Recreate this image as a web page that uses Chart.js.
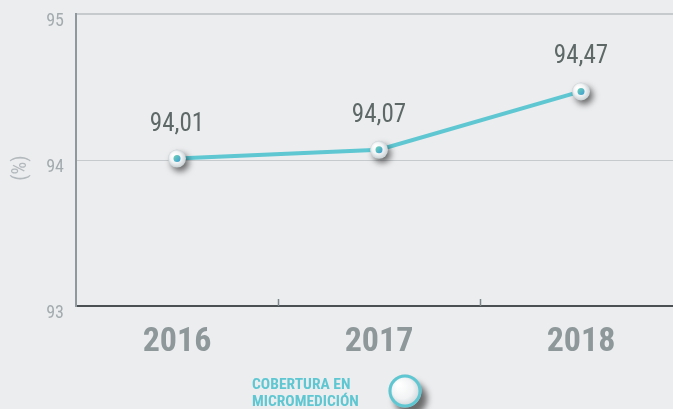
<!DOCTYPE html>
<html>
<head>
<meta charset="utf-8">
<script src="https://cdn.jsdelivr.net/npm/chart.js@4.4.1/dist/chart.umd.min.js"></script>
<style>
html, body { margin: 0; padding: 0; background: #ecedef; overflow: hidden; }
#wrap { position: relative; width: 690px; height: 409px; }
</style>
</head>
<body>
<div id="wrap"><canvas id="chart" width="690" height="409"></canvas></div>
<script>
const years = ['2016', '2017', '2018'];
const coverage = [94.01, 94.07, 94.47];
const valueLabels = ['94,01', '94,07', '94,47'];
const yTicks = [93, 94, 95];
const seriesName = ['COBERTURA EN', 'MICROMEDICIÓN'];

const narrow = '"Liberation Sans Narrow", "Roboto Condensed", Roboto, sans-serif';
const teal = '#5ec7d2';

// marcador blanco con sombra y punto interior
function drawMarker(ctx, x, y, r, ring) {
    ctx.save();
    ctx.shadowColor = 'rgba(0,0,0,0.55)';
    ctx.shadowBlur = 6;
    ctx.shadowOffsetX = r * 0.35;
    ctx.shadowOffsetY = r * 0.45;
    const g = ctx.createRadialGradient(x - r * 0.4, y - r * 0.4, r * 0.1, x, y, r);
    g.addColorStop(0, '#ffffff');
    g.addColorStop(0.6, '#f1f3f4');
    g.addColorStop(1, '#c9d1d4');
    ctx.beginPath();
    ctx.arc(x, y, r, 0, Math.PI * 2);
    ctx.fillStyle = g;
    ctx.fill();
    ctx.restore();
    if (ring) {
        ctx.beginPath();
        ctx.arc(x, y, r - 1.5, 0, Math.PI * 2);
        ctx.lineWidth = 3;
        ctx.strokeStyle = teal;
        ctx.stroke();
    } else {
        const d = ctx.createLinearGradient(x - 3, y - 3, x + 3, y + 3);
        d.addColorStop(0, '#6fd0b8');
        d.addColorStop(1, '#3f9fd0');
        ctx.beginPath();
        ctx.arc(x, y, 3.5, 0, Math.PI * 2);
        ctx.fillStyle = d;
        ctx.fill();
    }
}

const decorPlugin = {
    id: 'decor',
    afterDatasetsDraw(chart) {
        const ctx = chart.ctx;
        const meta = chart.getDatasetMeta(0);
        const area = chart.chartArea;
        const xs = chart.scales.x;

        // marcas pequeñas entre categorías
        ctx.save();
        ctx.strokeStyle = '#7d8689';
        ctx.lineWidth = 1.5;
        for (let i = 1; i < years.length; i++) {
            const px = Math.round((xs.getPixelForValue(i - 1) + xs.getPixelForValue(i)) / 2) + 0.5;
            ctx.beginPath();
            ctx.moveTo(px, area.bottom);
            ctx.lineTo(px, area.bottom - 7);
            ctx.stroke();
        }
        ctx.restore();

        meta.data.forEach((pt, i) => {
            drawMarker(ctx, pt.x, pt.y, 9, false);
            ctx.save();
            ctx.font = '25px ' + narrow;
            ctx.fillStyle = '#5d6867';
            ctx.textAlign = 'center';
            ctx.textBaseline = 'alphabetic';
            ctx.fillText(valueLabels[i], pt.x, pt.y - 28);
            ctx.restore();
        });

        // título del eje
        ctx.save();
        ctx.translate(21, 168);
        ctx.rotate(-Math.PI / 2);
        ctx.font = '20px ' + narrow;
        ctx.fillStyle = '#b3b9bc';
        ctx.textAlign = 'center';
        ctx.textBaseline = 'middle';
        ctx.fillText('(%)', 0, 0);
        ctx.restore();

        // leyenda
        ctx.save();
        ctx.font = 'bold 15.5px ' + narrow;
        ctx.fillStyle = teal;
        ctx.textAlign = 'left';
        ctx.textBaseline = 'alphabetic';
        ctx.fillText(seriesName[0], 252, 389);
        ctx.fillText(seriesName[1], 252, 406);
        ctx.restore();
        drawMarker(ctx, 405, 391, 16.5, true);
    }
};

new Chart(document.getElementById('chart'), {
    type: 'line',
    data: {
        labels: years,
        datasets: [{
            data: coverage,
            borderColor: teal,
            borderWidth: 4,
            pointRadius: 0,
            tension: 0,
            fill: false
        }]
    },
    options: {
        responsive: false,
        animation: false,
        layout: { padding: { top: 14, right: 8, left: 0, bottom: 0 } },
        plugins: { legend: { display: false }, tooltip: { enabled: false } },
        scales: {
            x: {
                offset: true,
                grid: { display: false, drawTicks: false },
                border: { display: true, color: '#4b5053', width: 2 },
                ticks: {
                    color: '#8e989a',
                    font: { family: narrow, size: 34, weight: 'bold' },
                    padding: 16
                },
                afterFit(scale) { scale.height = 103; }
            },
            y: {
                min: 93,
                max: 95,
                afterBuildTicks(scale) { scale.ticks = yTicks.map(v => ({ value: v })); },
                grid: {
                    drawTicks: false,
                    color: ctx => ctx.tick && ctx.tick.value === 93 ? 'rgba(0,0,0,0)' : '#c6cacd',
                    lineWidth: ctx => ctx.tick && ctx.tick.value === 95 ? 2 : 1
                },
                border: { display: true, color: '#8f999d', width: 2 },
                ticks: {
                    color: '#a3abae',
                    font: { family: narrow, size: 18 },
                    padding: 12,
                    labelOffset: 7,
                    callback: v => String(v)
                },
                afterFit(scale) {
                    scale.width = 76;
                    scale.paddingTop = 0;
                    scale.paddingBottom = 0;
                }
            }
        }
    },
    plugins: [decorPlugin]
});
</script>
</body>
</html>
